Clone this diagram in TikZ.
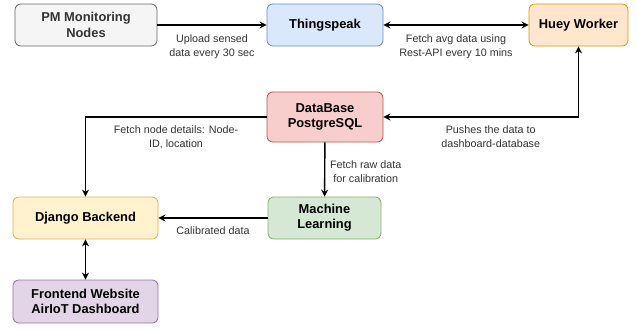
\documentclass[tikz,border=0pt]{standalone}
\usepackage{fontspec}
\setmainfont{Liberation Sans}
\usetikzlibrary{arrows.meta}

\definecolor{grayfill}{HTML}{F5F5F5}\definecolor{graydraw}{HTML}{666666}
\definecolor{bluefill}{HTML}{DAE8FC}\definecolor{bluedraw}{HTML}{6C8EBF}
\definecolor{orangefill}{HTML}{FFE6CC}\definecolor{orangedraw}{HTML}{D79B00}
\definecolor{redfill}{HTML}{F8CECC}\definecolor{reddraw}{HTML}{B85450}
\definecolor{yellowfill}{HTML}{FFF2CC}\definecolor{yellowdraw}{HTML}{D6B656}
\definecolor{greenfill}{HTML}{D5E8D4}\definecolor{greendraw}{HTML}{82B366}
\definecolor{purplefill}{HTML}{E1D5E7}\definecolor{purpledraw}{HTML}{9673A6}
\definecolor{lbltext}{HTML}{333333}

\tikzset{
  block/.style={draw, rounded corners=5pt, line width=0.7pt, align=center,
    font=\fontsize{11}{13}\selectfont\bfseries, inner sep=0pt},
  flow/.style={line width=1.2pt, -{Stealth[length=6pt,width=6pt]}},
  twoway/.style={line width=1.2pt, {Stealth[length=6pt,width=6pt]}-{Stealth[length=6pt,width=6pt]}},
  lbl/.style={font=\fontsize{9.2}{11.8}\selectfont, text=lbltext, align=center, inner sep=1pt}
}

\begin{document}
\begin{tikzpicture}[x=0.03cm,y=-0.03cm]
	\useasboundingbox (0,0) rectangle (638,330);

	% Define blocks
	\node[block, fill=grayfill, draw=graydraw, text=lbltext, minimum width=4.26cm, minimum height=1.26cm] (pm) at (86,25) {PM Monitoring\\Nodes};
	\node[block, fill=bluefill, draw=bluedraw, minimum width=3.48cm, minimum height=1.26cm] (ts) at (325,25) {Thingspeak};
	\node[block, fill=orangefill, draw=orangedraw, minimum width=2.97cm, minimum height=1.26cm] (huey) at (578.5,25) {Huey Worker};
	\node[block, fill=redfill, draw=reddraw, minimum width=3.48cm, minimum height=1.5cm] (db) at (325,117) {DataBase\\PostgreSQL};
	\node[block, fill=yellowfill, draw=yellowdraw, minimum width=4.35cm, minimum height=1.26cm] (dj) at (85.5,218) {Django Backend};
	\node[block, fill=greenfill, draw=greendraw, minimum width=3.39cm, minimum height=1.26cm] (ml) at (324.5,218) {Machine\\Learning};
	\node[block, fill=purplefill, draw=purpledraw, minimum width=4.35cm, minimum height=1.29cm] (fe) at (85.5,301.5) {Frontend Website\\AirIoT Dashboard};

	% Draw connectors
	\draw[flow] (pm) -- node[lbl, below=7pt] (l1) {Upload sensed\\data every 30 sec} (ts);
	\draw[twoway] (ts) -- node[lbl, below=7pt] (l2) {Fetch avg data using\\Rest-API every 10 mins} (huey);
	\draw[twoway] (db.east) -| node[lbl, pos=0.275, below=6pt] (l3) {Pushes the data to\\dashboard-database} (huey.south);
	\draw[flow] (db.west) -| node[lbl, pos=0.25, below=6pt] (l4) {Fetch node details: Node-\\ID, location} (dj.north);
	\draw[flow] (db) -- node[lbl, right=3pt, yshift=-2pt] (l5) {Fetch raw data\\for calibration} (ml);
	\draw[flow] (ml) -- node[lbl, below=6pt] (l6) {Calibrated data} (dj);
	\draw[twoway] (dj) -- (fe);
\end{tikzpicture}
\end{document}
